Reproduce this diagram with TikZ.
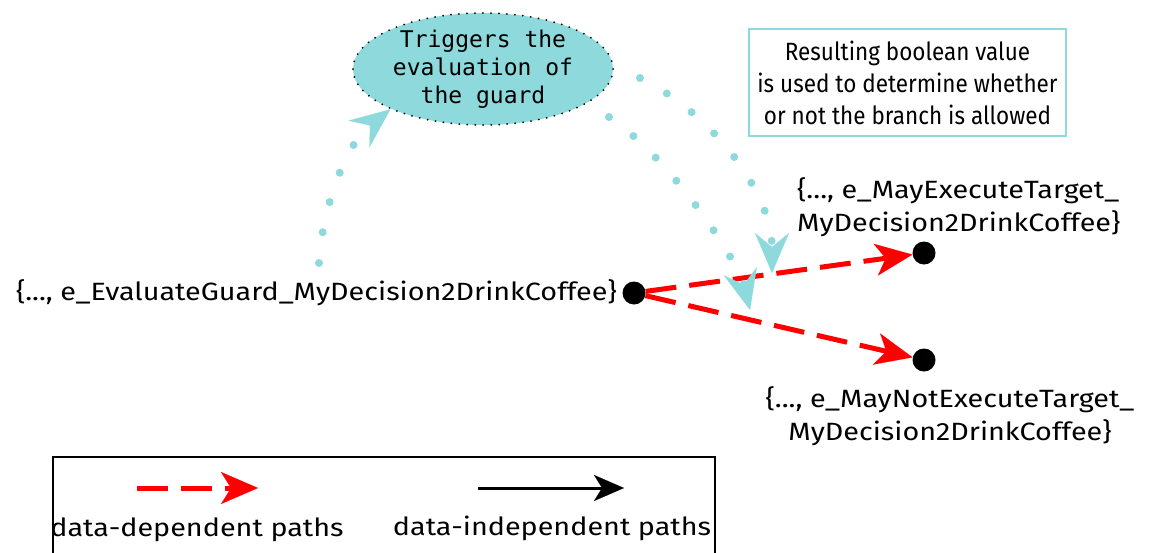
\documentclass[tikz,border=0pt]{standalone}
\usepackage{fontspec}
\setmainfont[FakeStretch=1.15]{Fira Sans}
\newfontfamily\monofont{DejaVu Sans Mono}
\newfontfamily\condfont[FakeStretch=0.9]{Fira Sans}
\usetikzlibrary{arrows.meta,shapes.geometric}
\definecolor{teal1}{RGB}{141,217,219}
\begin{document}
\begin{tikzpicture}[x=1pt,y=-1pt,
 dot/.style={circle,fill=black,inner sep=0pt,minimum size=23pt},
 lbl/.style={font=\fontsize{25}{33}\selectfont, inner sep=0pt},
 redarrow/.style={draw=red,line width=5pt,dash pattern=on 31pt off 13pt,-{Stealth[length=37pt,width=32pt,inset=10pt,line width=0.1pt]}},
 tealarrow/.style={draw=teal1,line width=8pt,line cap=round,dash pattern=on 0pt off 31pt,-{Stealth[length=40pt,width=34pt,inset=14pt,line width=0.1pt]}},
 blackarrow/.style={draw=black,line width=3pt,-{Stealth[length=30pt,width=26pt,inset=8pt,line width=0.1pt]}}
]
\useasboundingbox (0,0) rectangle (1156,552);
\clip (0,0) rectangle (1156,552);
% nodes
\node[dot] (L) at (634,293) {};
\node[dot] (U) at (924,253) {};
\node[dot] (D) at (924,360) {};
\node[lbl, anchor=east] (Ltext) at (617,293) {\{..., e\_EvaluateGuard\_MyDecision2DrinkCoffee\}};
\node[lbl, align=left, anchor=west] (Utext) at (797,207) {\{..., e\_MayExecuteTarget\_\\MyDecision2DrinkCoffee\}};
\node[lbl, align=center] (Dtext) at (950,416) {\{..., e\_MayNotExecuteTarget\_\\MyDecision2DrinkCoffee\}};
\node[ellipse, fill=teal1, draw=black, line width=2pt, dash pattern=on 0pt off 8pt, line cap=round,
  minimum width=260pt, minimum height=112pt, inner sep=0pt, align=center,
  font=\monofont\fontsize{23}{28}\selectfont] (E) at (483,69) {Triggers the\\evaluation of\\the guard};
\node[draw=teal1, line width=2pt, minimum width=317pt, minimum height=107pt, align=center,
  font=\condfont\fontsize{25}{32}\selectfont] (B) at (907.5,82.5) {Resulting boolean value\\is used to determine whether\\or not the branch is allowed};
% red data-dependent arrows
\draw[redarrow] (L) -- (U);
\draw[redarrow] (L) -- (D);
% teal dotted arrows
\coordinate (t1s) at (319,263);
\draw[tealarrow] (t1s) .. controls (322,210) and (345,145) .. (E.south west);
\coordinate (t2s) at (640,78);
\coordinate (t2e) at (772,273);
\draw[tealarrow] (t2s) .. controls (715,115) and (772,195) .. (t2e);
\coordinate (t3s) at (609,117);
\coordinate (t3e) at (750,310);
\draw[tealarrow] (t3s) .. controls (672,159) and (738,262) .. (t3e);
% legend
\node[draw, line width=2pt, minimum width=662pt, minimum height=130pt, anchor=north west] (Leg) at (52,456) {};
\coordinate (r1) at (137,488);
\coordinate (r2) at (258,488);
\draw[redarrow] (r1) -- (r2);
\node[lbl] (rl) at (197,530) {data-dependent paths};
\coordinate (b1) at (478,488);
\coordinate (b2) at (624,488);
\draw[blackarrow] (b1) -- (b2);
\node[lbl] (bl) at (552,528) {data-independent paths};
\end{tikzpicture}
\end{document}
